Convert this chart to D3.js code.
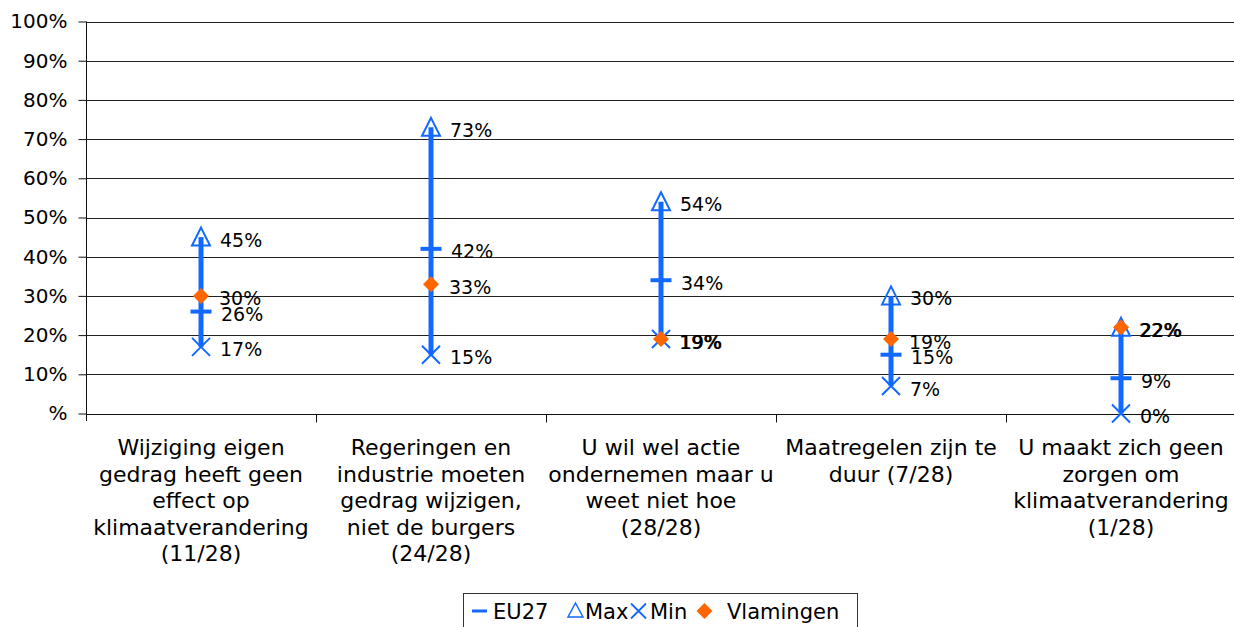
<!DOCTYPE html>
<html><head><meta charset="utf-8">
<script src="https://cdn.jsdelivr.net/npm/d3@7"></script>
<style>html,body{margin:0;padding:0;background:#fff;}svg{display:block;font-family:"DejaVu Sans",Verdana,sans-serif;}</style>
</head><body>
<svg id="c" width="1234" height="627"></svg>
<script>
const categories = [
  ["Wijziging eigen","gedrag heeft geen","effect op","klimaatverandering","(11/28)"],
  ["Regeringen en","industrie moeten","gedrag wijzigen,","niet de burgers","(24/28)"],
  ["U wil wel actie","ondernemen maar u","weet niet hoe","(28/28)"],
  ["Maatregelen zijn te","duur (7/28)"],
  ["U maakt zich geen","zorgen om","klimaatverandering","(1/28)"]
];
const eu27 = [26, 42, 34, 15, 9];
const maxVals = [45, 73, 54, 30, 22];
const minVals = [17, 15, 19, 7, 0];
const vlamingen = [30, 33, 19, 19, 22];
const yTicks = [0,10,20,30,40,50,60,70,80,90,100];
const yTickLabels = ["%","10%","20%","30%","40%","50%","60%","70%","80%","90%","100%"];
const legendLabels = ["EU27","Max","Min","Vlamingen"];

const blue = "#1169ff", orange = "#ff6600";
const svg = d3.select("#c");
const idx = d3.range(categories.length);
const x = d3.scaleBand().domain(idx).range([86, 1236]).padding(0);
const y = d3.scaleLinear().domain([0, 100]).range([413.5, 21.5]);
const cx = i => x(i) + x.bandwidth() / 2;

// gridlines
svg.append("g").selectAll("line").data(yTicks).join("line")
  .attr("x1", 86).attr("x2", 1234)
  .attr("y1", d => Math.round(y(d)) + 0.5).attr("y2", d => Math.round(y(d)) + 0.5)
  .attr("stroke", "#222").attr("stroke-width", 1);

// y axis
const yAxis = d3.axisLeft(y).tickValues(yTicks).tickSize(8).tickPadding(11)
  .tickFormat((d, i) => yTickLabels[i]);
const gy = svg.append("g").attr("transform", "translate(86.5,0)").call(yAxis);
gy.select(".domain").attr("d", "M0," + y(100) + "V421").attr("stroke", "#111");
gy.selectAll(".tick line").attr("stroke", "#111");
gy.selectAll(".tick text").attr("font-size", "20px").attr("fill", "#000")
  .attr("font-family", "DejaVu Sans, Verdana, sans-serif");

// x axis
const gx = svg.append("g").attr("transform", "translate(0," + (Math.round(y(0)) + 0.5) + ")");
gx.append("line").attr("x1", 86).attr("x2", 1234).attr("stroke", "#111");
gx.selectAll("line.tk").data(d3.range(1, categories.length)).join("line").attr("class", "tk")
  .attr("x1", d => Math.round(x(d)) + 0.5).attr("x2", d => Math.round(x(d)) + 0.5)
  .attr("y1", 0).attr("y2", 8).attr("stroke", "#111");

// category labels
const cl = svg.append("g").selectAll("text").data(categories).join("text")
  .attr("text-anchor", "middle").attr("font-size", "22px").attr("fill", "#000");
cl.each(function(lines, i) {
  d3.select(this).selectAll("tspan").data(lines).join("tspan")
    .attr("x", cx(i)).attr("y", (d, j) => 455 + j * 26.5).text(d => d);
});

// ranges
const g = svg.append("g");
g.selectAll("line.rng").data(idx).join("line").attr("class", "rng")
  .attr("x1", cx).attr("x2", cx)
  .attr("y1", i => y(minVals[i])).attr("y2", i => y(maxVals[i]))
  .attr("stroke", blue).attr("stroke-width", 5);

// max triangles
g.selectAll("path.max").data(idx).join("path").attr("class", "max")
  .attr("d", i => { const X = cx(i), Y = y(maxVals[i]);
    return `M${X},${Y-9.5}L${X+9},${Y+8.5}L${X-9},${Y+8.5}Z`; })
  .attr("fill", "none").attr("stroke", blue).attr("stroke-width", 2);

// min crosses
g.selectAll("path.min").data(idx).join("path").attr("class", "min")
  .attr("d", i => { const X = cx(i), Y = y(minVals[i]);
    return `M${X-9},${Y-9}L${X+9},${Y+9}M${X+9},${Y-9}L${X-9},${Y+9}`; })
  .attr("fill", "none").attr("stroke", blue).attr("stroke-width", 2);

// EU27 dashes
g.selectAll("line.eu").data(idx).join("line").attr("class", "eu")
  .attr("x1", i => cx(i) - 10.5).attr("x2", i => cx(i) + 10.5)
  .attr("y1", i => y(eu27[i])).attr("y2", i => y(eu27[i]))
  .attr("stroke", blue).attr("stroke-width", 4);

// Vlamingen diamonds
g.selectAll("path.vl").data(idx).join("path").attr("class", "vl")
  .attr("d", i => { const X = cx(i), Y = y(vlamingen[i]);
    return `M${X},${Y-8}L${X+8},${Y}L${X},${Y+8}L${X-8},${Y}Z`; })
  .attr("fill", orange);

// data labels
const lab = svg.append("g").attr("font-size", "19px").attr("fill", "#000");
const addLabels = (vals, dx) => lab.append("g").selectAll("text").data(idx).join("text")
  .attr("x", i => cx(i) + dx).attr("y", i => y(vals[i]) + 9.5)
  .text(i => vals[i] + "%");
addLabels(maxVals, 19);
addLabels(eu27, 20);
addLabels(minVals, 19);
addLabels(vlamingen, 18);

// legend
const lg = svg.append("g");
lg.append("rect").attr("x", 463.5).attr("y", 593.5).attr("width", 394).attr("height", 40)
  .attr("fill", "#fff").attr("stroke", "#333").attr("stroke-width", 1);
const ly = 611;
lg.append("line").attr("x1", 472).attr("x2", 487).attr("y1", ly).attr("y2", ly)
  .attr("stroke", blue).attr("stroke-width", 3);
lg.append("path").attr("d", `M575.5,${ly-8}L583,${ly+6}L568,${ly+6}Z`)
  .attr("fill", "none").attr("stroke", blue).attr("stroke-width", 1.5);
lg.append("path").attr("d", `M631,${ly-7.5}L646,${ly+7.5}M646,${ly-7.5}L631,${ly+7.5}`)
  .attr("stroke", blue).attr("stroke-width", 1.8);
lg.append("path").attr("d", `M704.5,${ly-8}L712.5,${ly}L704.5,${ly+8}L696.5,${ly}Z`)
  .attr("fill", orange);
const lx = [493, 585, 650, 727];
lg.selectAll("text").data(legendLabels).join("text")
  .attr("x", (d, i) => lx[i]).attr("y", ly + 8).attr("font-size", "21px").attr("fill", "#000")
  .text(d => d);
</script>
</body></html>
